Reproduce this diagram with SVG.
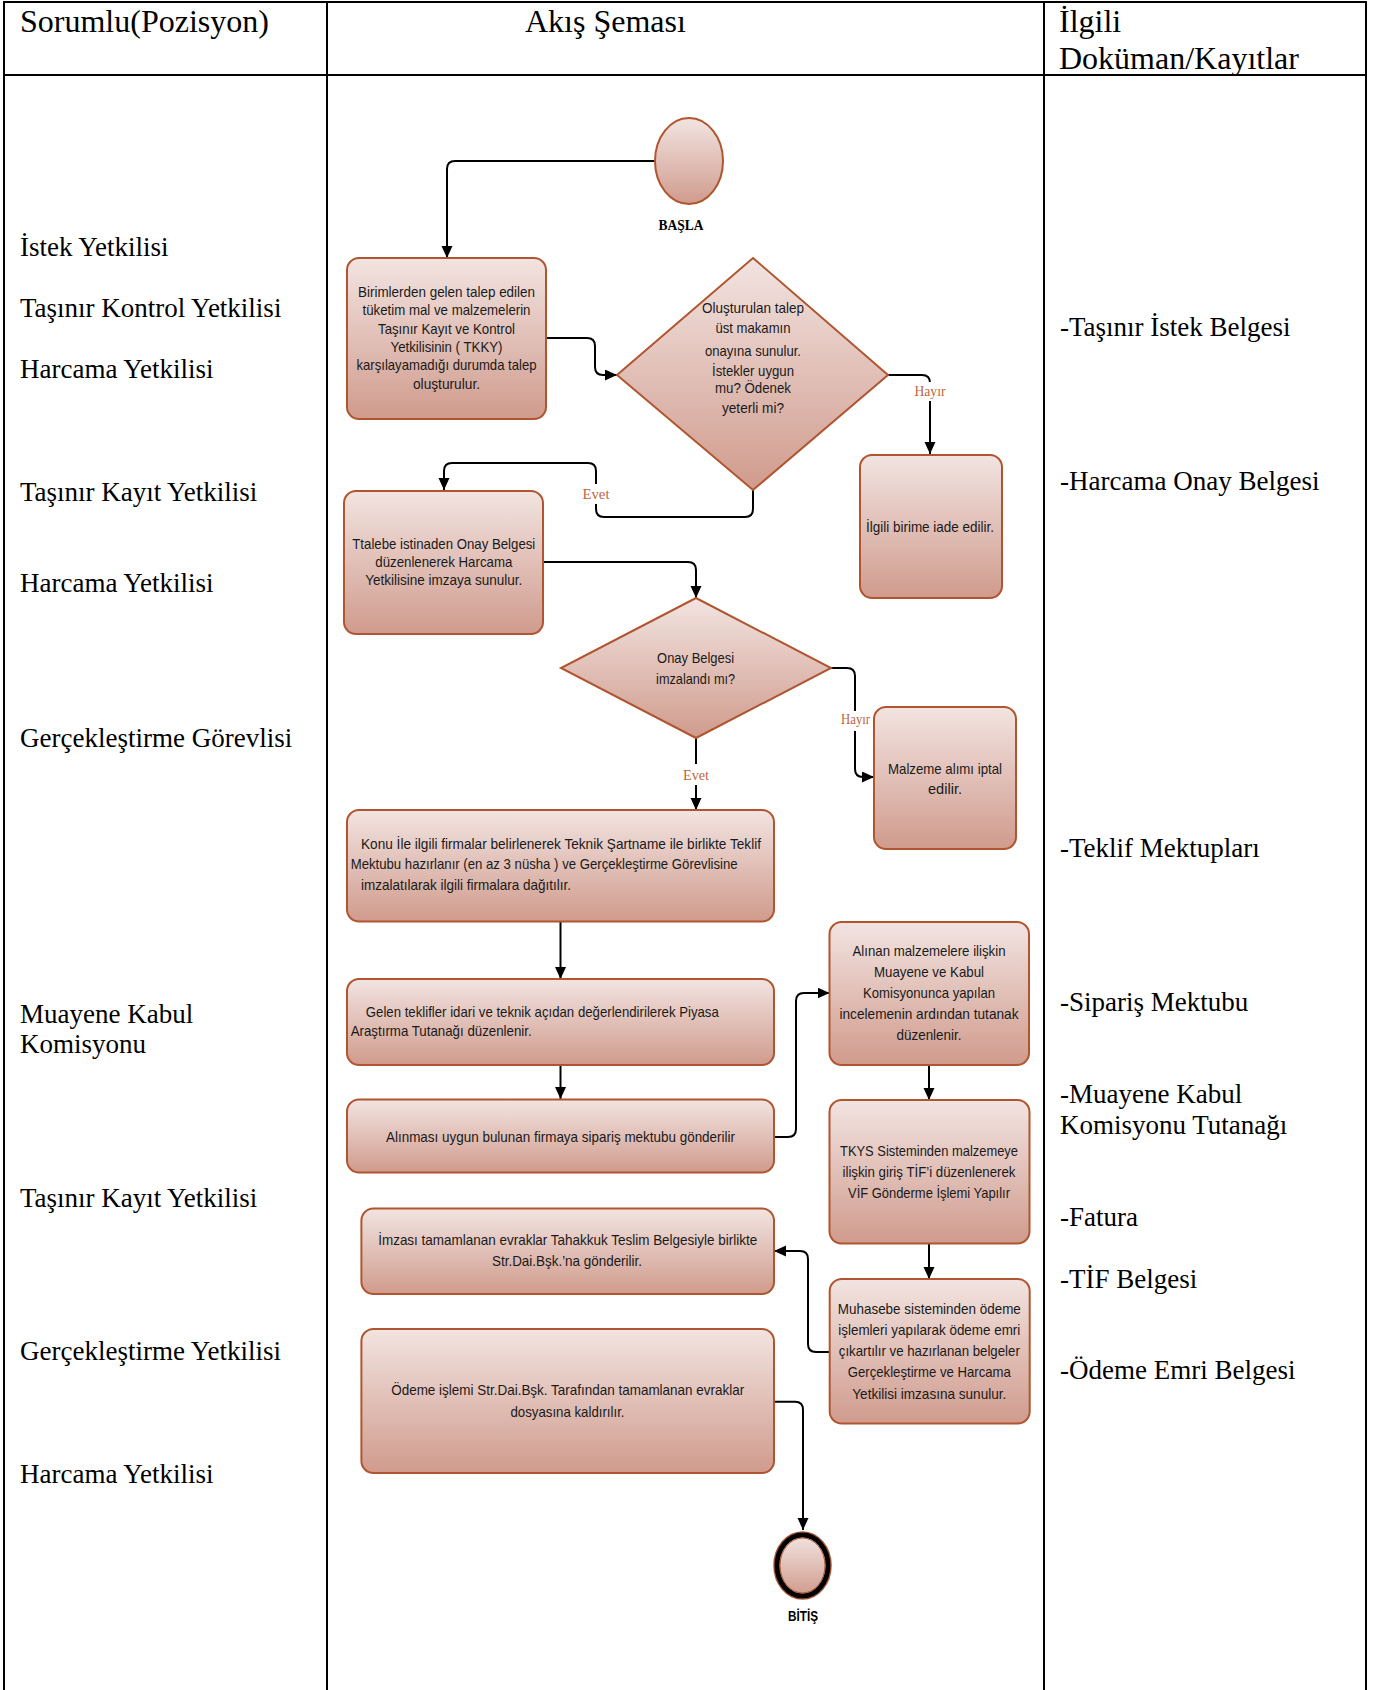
<svg xmlns="http://www.w3.org/2000/svg" width="1373" height="1690" viewBox="0 0 1373 1690">
<defs>
<linearGradient id="g" x1="0" y1="0" x2="0" y2="1">
<stop offset="0" stop-color="#f2e4e1"/>
<stop offset="1" stop-color="#d09b8d"/>
</linearGradient>
<marker id="arr" markerUnits="userSpaceOnUse" markerWidth="13" markerHeight="12" refX="12" refY="5.5" orient="auto">
<path d="M0,0 L12,5.5 L0,11 z" fill="#000"/>
</marker>
<style>
.tbl{stroke:#000;stroke-width:2;fill:none}
.hd{font-family:"Liberation Serif","Times New Roman",serif;font-size:32px;fill:#000}
.lb{font-family:"Liberation Serif","Times New Roman",serif;font-size:27px;fill:#000}
.sh{fill:url(#g);stroke:#b0552f;stroke-width:2}
.bt{font-family:"Liberation Sans",Arial,sans-serif;font-size:14.5px;fill:#1a1a1a}
.c{text-anchor:middle}
.cn{fill:none;stroke:#000;stroke-width:2}
.yn{font-family:"Liberation Serif","Times New Roman",serif;font-size:15px;fill:#c0653e;text-anchor:middle}
</style>
</defs>
<rect width="1373" height="1690" fill="#fff"/>

<g id="table">
<path class="tbl" d="M4,1690 V2 H1366 V1690 M327,2 V1690 M1044,2 V1690 M4,75 H1366"/>
<text class="hd" x="20" y="32">Sorumlu(Pozisyon)</text>
<text class="hd" x="525" y="32">Akış Şeması</text>
<text class="hd" x="1059" y="32">İlgili</text>
<text class="hd" x="1059" y="69">Doküman/Kayıtlar</text>
</g>

<g id="roles">
<text class="lb" x="20" y="256">İstek Yetkilisi</text>
<text class="lb" x="20" y="317">Taşınır Kontrol Yetkilisi</text>
<text class="lb" x="20" y="378">Harcama Yetkilisi</text>
<text class="lb" x="20" y="501">Taşınır Kayıt Yetkilisi</text>
<text class="lb" x="20" y="592">Harcama Yetkilisi</text>
<text class="lb" x="20" y="747">Gerçekleştirme Görevlisi</text>
<text class="lb" x="20" y="1023">Muayene Kabul</text>
<text class="lb" x="20" y="1053">Komisyonu</text>
<text class="lb" x="20" y="1207">Taşınır Kayıt Yetkilisi</text>
<text class="lb" x="20" y="1360">Gerçekleştirme Yetkilisi</text>
<text class="lb" x="20" y="1483">Harcama Yetkilisi</text>
</g>

<g id="documents">
<text class="lb" x="1060" y="336">-Taşınır İstek Belgesi</text>
<text class="lb" x="1060" y="490">-Harcama Onay Belgesi</text>
<text class="lb" x="1060" y="857">-Teklif Mektupları</text>
<text class="lb" x="1060" y="1011">-Sipariş Mektubu</text>
<text class="lb" x="1060" y="1103">-Muayene Kabul</text>
<text class="lb" x="1060" y="1134">Komisyonu Tutanağı</text>
<text class="lb" x="1060" y="1226">-Fatura</text>
<text class="lb" x="1060" y="1288">-TİF Belgesi</text>
<text class="lb" x="1060" y="1379">-Ödeme Emri Belgesi</text>
</g>

<g id="connectors">
<path class="cn" d="M655,161 H455 Q447,161 447,169 V258" marker-end="url(#arr)"/>
<path class="cn" d="M546,338 H587 Q595,338 595,346 V367 Q595,375 603,375 H617" marker-end="url(#arr)"/>
<path class="cn" d="M888,375 H922 Q930,375 930,383 V454" marker-end="url(#arr)"/>
<path class="cn" d="M753,490 V509 Q753,517 745,517 H604 Q596,517 596,509 V471 Q596,463 588,463 H452 Q444,463 444,471 V490" marker-end="url(#arr)"/>
<path class="cn" d="M543,562 H688 Q696,562 696,570 V598" marker-end="url(#arr)"/>
<path class="cn" d="M831,668 H847 Q855,668 855,676 V769 Q855,777 863,777 H874" marker-end="url(#arr)"/>
<path class="cn" d="M696,738 V810" marker-end="url(#arr)"/>
<path class="cn" d="M560.5,922 V979" marker-end="url(#arr)"/>
<path class="cn" d="M560.5,1065 V1099" marker-end="url(#arr)"/>
<path class="cn" d="M774,1137 H788 Q796,1137 796,1129 V1001 Q796,993 804,993 H829.5" marker-end="url(#arr)"/>
<path class="cn" d="M929,1065 V1100" marker-end="url(#arr)"/>
<path class="cn" d="M929,1243.5 V1279" marker-end="url(#arr)"/>
<path class="cn" d="M829.7,1352 H816 Q808,1352 808,1344 V1259 Q808,1251 800,1251 H774" marker-end="url(#arr)"/>
<path class="cn" d="M774,1401.7 H795 Q803,1401.7 803,1409.7 V1530" marker-end="url(#arr)"/>
<rect x="912" y="382" width="36" height="19" fill="#fff"/>
<text class="yn" x="930" y="396" textLength="31" lengthAdjust="spacingAndGlyphs">Hayır</text>
<rect x="581" y="484" width="30" height="20" fill="#fff"/>
<text class="yn" x="596" y="499" textLength="27" lengthAdjust="spacingAndGlyphs">Evet</text>
<rect x="838" y="711" width="35" height="20" fill="#fff"/>
<text class="yn" x="855.6" y="724" textLength="29" lengthAdjust="spacingAndGlyphs">Hayır</text>
<rect x="681" y="764" width="30" height="21" fill="#fff"/>
<text class="yn" x="696" y="780" textLength="26" lengthAdjust="spacingAndGlyphs">Evet</text>
</g>

<g id="start">
<ellipse class="sh" cx="689" cy="161" rx="34" ry="43"/>
<text x="681" y="230" text-anchor="middle" font-family="'Liberation Serif','Times New Roman',serif" font-weight="bold" font-size="15" textLength="45" lengthAdjust="spacingAndGlyphs">BAŞLA</text>
</g>

<g id="n1">
<rect class="sh" x="347" y="258" width="199" height="161" rx="12"/>
<text class="bt c" x="446.5" y="297" textLength="177" lengthAdjust="spacingAndGlyphs">Birimlerden gelen talep edilen</text>
<text class="bt c" x="446.5" y="315" textLength="168" lengthAdjust="spacingAndGlyphs">tüketim mal ve malzemelerin</text>
<text class="bt c" x="446.5" y="333.5" textLength="137" lengthAdjust="spacingAndGlyphs">Taşınır Kayıt ve Kontrol</text>
<text class="bt c" x="446.5" y="352" textLength="112" lengthAdjust="spacingAndGlyphs">Yetkilisinin ( TKKY)</text>
<text class="bt c" x="446.5" y="370" textLength="180" lengthAdjust="spacingAndGlyphs">karşılayamadığı durumda talep</text>
<text class="bt c" x="446.5" y="388.5" textLength="67" lengthAdjust="spacingAndGlyphs">oluşturulur.</text>
</g>

<g id="d1">
<polygon class="sh" points="753,258 888,375 753,490 617,375"/>
<text class="bt c" x="753" y="313" textLength="102" lengthAdjust="spacingAndGlyphs">Oluşturulan talep</text>
<text class="bt c" x="753" y="333" textLength="75" lengthAdjust="spacingAndGlyphs">üst makamın</text>
<text class="bt c" x="753" y="355.5" textLength="96" lengthAdjust="spacingAndGlyphs">onayına sunulur.</text>
<text class="bt c" x="753" y="375.5" textLength="82" lengthAdjust="spacingAndGlyphs">İstekler uygun</text>
<text class="bt c" x="753" y="393" textLength="76" lengthAdjust="spacingAndGlyphs">mu? Ödenek</text>
<text class="bt c" x="753" y="412.5" textLength="62" lengthAdjust="spacingAndGlyphs">yeterli mi?</text>
</g>

<g id="n_iade">
<rect class="sh" x="860" y="455" width="142" height="143" rx="12"/>
<text class="bt c" x="930" y="531.5" textLength="128" lengthAdjust="spacingAndGlyphs">İlgili birime iade edilir.</text>
</g>

<g id="n2">
<rect class="sh" x="344" y="491" width="199" height="143" rx="12"/>
<text class="bt c" x="443.8" y="548.5" textLength="183" lengthAdjust="spacingAndGlyphs">Ttalebe istinaden Onay Belgesi</text>
<text class="bt c" x="443.8" y="566.5" textLength="137" lengthAdjust="spacingAndGlyphs">düzenlenerek Harcama</text>
<text class="bt c" x="443.8" y="585" textLength="157" lengthAdjust="spacingAndGlyphs">Yetkilisine imzaya sunulur.</text>
</g>

<g id="d2">
<polygon class="sh" points="696,598 831,668 696,738 561,668"/>
<text class="bt c" x="695.6" y="663" textLength="77" lengthAdjust="spacingAndGlyphs">Onay Belgesi</text>
<text class="bt c" x="695.6" y="683.5" textLength="79" lengthAdjust="spacingAndGlyphs">imzalandı mı?</text>
</g>

<g id="n_iptal">
<rect class="sh" x="874" y="707" width="142" height="142" rx="12"/>
<text class="bt c" x="945" y="773.5" textLength="114" lengthAdjust="spacingAndGlyphs">Malzeme alımı iptal</text>
<text class="bt c" x="945" y="793.5" textLength="34" lengthAdjust="spacingAndGlyphs">edilir.</text>
</g>

<g id="n3">
<rect class="sh" x="347" y="810" width="427" height="111.5" rx="12"/>
<text class="bt" x="361" y="848.5" textLength="400" lengthAdjust="spacingAndGlyphs">Konu İle ilgili firmalar belirlenerek Teknik Şartname ile birlikte Teklif</text>
<text class="bt" x="350.7" y="868.5" textLength="387" lengthAdjust="spacingAndGlyphs">Mektubu hazırlanır (en az 3 nüsha ) ve Gerçekleştirme Görevlisine</text>
<text class="bt" x="361" y="889.5" textLength="210" lengthAdjust="spacingAndGlyphs">imzalatılarak ilgili firmalara dağıtılır.</text>
</g>

<g id="n4">
<rect class="sh" x="347" y="979" width="427" height="86" rx="12"/>
<text class="bt" x="365.8" y="1017" textLength="353" lengthAdjust="spacingAndGlyphs">Gelen teklifler idari ve teknik açıdan değerlendirilerek Piyasa</text>
<text class="bt" x="350.7" y="1035.5" textLength="181" lengthAdjust="spacingAndGlyphs">Araştırma Tutanağı düzenlenir.</text>
</g>

<g id="n5">
<rect class="sh" x="347" y="1099.5" width="427" height="73" rx="12"/>
<text class="bt c" x="560.5" y="1142" textLength="349" lengthAdjust="spacingAndGlyphs">Alınması uygun bulunan firmaya sipariş mektubu gönderilir</text>
</g>

<g id="n6">
<rect class="sh" x="829.5" y="922" width="199.5" height="143" rx="12"/>
<text class="bt c" x="929" y="956" textLength="153" lengthAdjust="spacingAndGlyphs">Alınan malzemelere ilişkin</text>
<text class="bt c" x="929" y="977" textLength="110" lengthAdjust="spacingAndGlyphs">Muayene ve Kabul</text>
<text class="bt c" x="929" y="997.5" textLength="132" lengthAdjust="spacingAndGlyphs">Komisyonunca yapılan</text>
<text class="bt c" x="929" y="1018.5" textLength="179" lengthAdjust="spacingAndGlyphs">incelemenin ardından tutanak</text>
<text class="bt c" x="929" y="1040" textLength="65" lengthAdjust="spacingAndGlyphs">düzenlenir.</text>
</g>

<g id="n7">
<rect class="sh" x="829.5" y="1100" width="200" height="143.5" rx="12"/>
<text class="bt c" x="929" y="1156" textLength="178" lengthAdjust="spacingAndGlyphs">TKYS Sisteminden malzemeye</text>
<text class="bt c" x="929" y="1177" textLength="173" lengthAdjust="spacingAndGlyphs">ilişkin giriş TİF’i düzenlenerek</text>
<text class="bt c" x="929" y="1197.5" textLength="162" lengthAdjust="spacingAndGlyphs">VİF Gönderme İşlemi Yapılır</text>
</g>

<g id="n8">
<rect class="sh" x="829.7" y="1279" width="200" height="144.5" rx="12"/>
<text class="bt c" x="929.3" y="1314" textLength="183" lengthAdjust="spacingAndGlyphs">Muhasebe sisteminden ödeme</text>
<text class="bt c" x="929.3" y="1335" textLength="182" lengthAdjust="spacingAndGlyphs">işlemleri yapılarak ödeme emri</text>
<text class="bt c" x="929.3" y="1356" textLength="181" lengthAdjust="spacingAndGlyphs">çıkartılır ve hazırlanan belgeler</text>
<text class="bt c" x="929.3" y="1377" textLength="163" lengthAdjust="spacingAndGlyphs">Gerçekleştirme ve Harcama</text>
<text class="bt c" x="929.3" y="1398.5" textLength="154" lengthAdjust="spacingAndGlyphs">Yetkilisi imzasına sunulur.</text>
</g>

<g id="n9">
<rect class="sh" x="361.4" y="1208.5" width="412.6" height="85.5" rx="12"/>
<text class="bt c" x="567.7" y="1245" textLength="379" lengthAdjust="spacingAndGlyphs">İmzası tamamlanan evraklar Tahakkuk Teslim Belgesiyle birlikte</text>
<text class="bt c" x="567" y="1266" textLength="150" lengthAdjust="spacingAndGlyphs">Str.Dai.Bşk.’na gönderilir.</text>
</g>

<g id="n10">
<rect class="sh" x="361.4" y="1329" width="412.6" height="144" rx="12"/>
<text class="bt c" x="567.7" y="1395" textLength="353" lengthAdjust="spacingAndGlyphs">Ödeme işlemi Str.Dai.Bşk. Tarafından tamamlanan evraklar</text>
<text class="bt c" x="567.5" y="1417" textLength="114" lengthAdjust="spacingAndGlyphs">dosyasına kaldırılır.</text>
</g>

<g id="end">
<ellipse cx="802.5" cy="1565.5" rx="28.5" ry="33.5" fill="none" stroke="#b0552f" stroke-width="1.5"/>
<ellipse cx="802.5" cy="1565.5" rx="25.5" ry="30.5" fill="url(#g)" stroke="#000" stroke-width="5"/>
<ellipse cx="802.5" cy="1565.5" rx="22.5" ry="27.5" fill="none" stroke="#b0552f" stroke-width="1"/>
<text x="803" y="1621" text-anchor="middle" font-family="'Liberation Sans',Arial,sans-serif" font-weight="bold" font-size="15" textLength="30" lengthAdjust="spacingAndGlyphs">BİTİŞ</text>
</g>
</svg>
